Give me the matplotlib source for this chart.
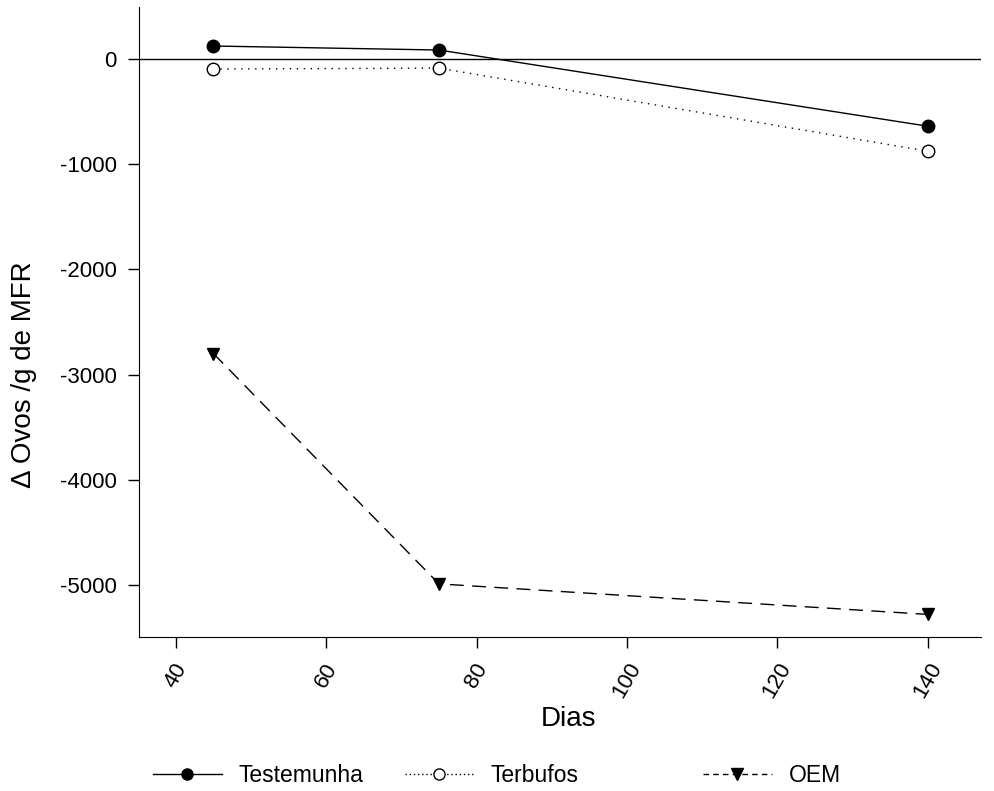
import matplotlib.pyplot as plt
from matplotlib.lines import Line2D

plt.rcParams['font.family'] = ['Liberation Sans', 'DejaVu Sans']
plt.rcParams['axes.unicode_minus'] = False

dias = [45, 75, 140]
testemunha = [124, 86, -638]
terbufos = [-95, -86, -876]
oem = [-2800, -4990, -5280]

xticks = [40, 60, 80, 100, 120, 140]
yticks = [0, -1000, -2000, -3000, -4000, -5000]

names = ['Testemunha', 'Terbufos', 'OEM']

fig = plt.figure(figsize=(9.94, 7.91), dpi=100)
ax = fig.add_axes([139 / 994, 1 - 637 / 791, (981 - 139) / 994, (637 - 7) / 791])

ax.axhline(0, color='black', lw=1.0, zorder=1)

ax.plot(dias, testemunha, color='black', lw=1.0, ls='-',
        marker='o', ms=9, mfc='black', mec='black')
ax.plot(dias, terbufos, color='black', lw=1.0, ls=(0, (1, 4)),
        marker='o', ms=9, mfc='white', mec='black')
ax.plot(dias, oem, color='black', lw=1.0, ls=(0, (10, 6)),
        marker='v', ms=9, mfc='black', mec='black')

ax.set_xlim(35.1, 147.1)
ax.set_ylim(-5495, 495)
ax.set_xticks(xticks)
ax.set_yticks(yticks)
ax.set_xticklabels([str(t) for t in xticks], rotation=60, ha='center', va='top')

ax.spines['top'].set_visible(False)
ax.spines['right'].set_visible(False)
ax.tick_params(direction='out', length=8, width=1, labelsize=16, pad=8)

ax.set_xlabel('Dias', fontsize=20)
ax.set_ylabel('\u0394 Ovos /g de MFR', fontsize=20)
ax.xaxis.set_label_coords(0.51, -0.11)
ax.yaxis.set_label_coords(-0.121, 0.417)

handles = [
    Line2D([], [], color='black', lw=1.0, ls='-', marker='o', ms=8,
           mfc='black', mec='black'),
    Line2D([], [], color='black', lw=1.0, ls=(0, (1, 2)), marker='o', ms=8,
           mfc='white', mec='black'),
    Line2D([], [], color='black', lw=1.0, ls=(0, (4, 3)), marker='v', ms=8,
           mfc='black', mec='black'),
]
# legend entries sit at their own places along the bottom
starts = [153, 405, 703]
for h, name, x0 in zip(handles, names, starts):
    fig.legend([h], [name], loc='center left',
               bbox_to_anchor=(x0 / 994, 1 - 776 / 791), frameon=False,
               fontsize=16.5, handlelength=3.0, handletextpad=0.75,
               borderpad=0, borderaxespad=0)

fig.savefig('out.png', dpi=100)
